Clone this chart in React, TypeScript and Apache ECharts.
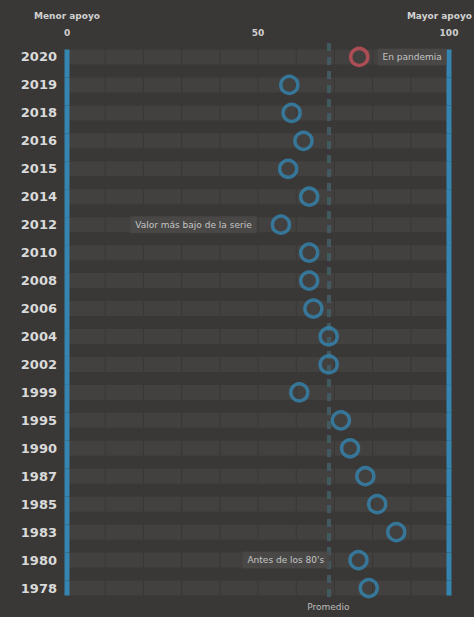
import React, { useEffect, useRef } from "react";
import * as echarts from "echarts";

const years = ["2020","2019","2018","2016","2015","2014","2012","2010","2008","2006","2004","2002","1999","1995","1990","1987","1985","1983","1980","1978"];
const values = [76.5,58.2,58.8,61.9,57.9,63.4,56.0,63.4,63.4,64.5,68.5,68.5,60.8,71.7,74.1,78.1,81.2,86.2,76.3,79.0];
const highlightYear = "2020";
const notes = [
  { year: "2020", text: "En pandemia", side: "right", distance: 8 },
  { year: "2012", text: "Valor más bajo de la serie", side: "left", distance: 14 },
  { year: "1980", text: "Antes de los 80's", side: "left", distance: 19 },
];
const axisTicks = [0, 50, 100];
const endLabels = ["Menor apoyo", "Mayor apoyo"];
const meanLabel = "Promedio";

const BG = "#393836";
const BAND = "#42413f";
const BLUE = "#3585b0";
const RED = "#c8505a";

export default function App() {
  const ref = useRef<HTMLDivElement>(null);
  useEffect(() => {
    document.body.style.margin = "0";
    const chart = echarts.init(ref.current!, null, { renderer: "svg" });
    const mean = values.reduce((a, b) => a + b, 0) / values.length;
    const n = years.length;

    const scatterData = values.map((v, i) => {
      const y = years[i];
      const note = notes.find((nn) => nn.year === y);
      const item: any = {
        value: [v, y],
        itemStyle: { borderColor: y === highlightYear ? RED : BLUE },
      };
      if (note) {
        item.label = {
          show: true,
          position: note.side,
          distance: note.distance,
          formatter: note.text,
          backgroundColor: "#4b4a48",
          padding: [4, 5, 4, 5],
          color: "#e4e4e4",
          fontSize: 9,
          fontFamily: "DejaVu Sans",
        };
      }
      return item;
    });

    const option: any = {
      animation: false,
      backgroundColor: BG,
      grid: { left: 67, right: 25, top: 43, bottom: 15 },
      xAxis: {
        type: "value",
        position: "top",
        min: 0,
        max: 100,
        interval: 50,
        axisLine: { show: false },
        axisTick: { show: false },
        splitLine: { show: false },
        axisLabel: {
          color: "#d0d0d0",
          fontSize: 9,
          fontWeight: "bold",
          fontFamily: "DejaVu Sans",
          margin: 6,
          formatter: (v: number) => (axisTicks.includes(v) ? String(v) : ""),
        },
      },
      yAxis: {
        type: "category",
        data: years,
        inverse: true,
        axisLine: { show: false },
        axisTick: { show: false },
        splitLine: { show: false },
        axisLabel: {
          color: "#dadada",
          fontSize: 13,
          fontWeight: "bold",
          fontFamily: "DejaVu Sans",
          margin: 10,
        },
      },
      series: [
        {
          type: "custom",
          silent: true,
          z: 1,
          data: years.map((y) => [0, y]),
          renderItem: (params: any, api: any) => {
            const idx = params.dataIndex;
            const cat = api.value(1);
            const rowH = api.size([0, 1])[1];
            const children: any[] = [];
            for (let k = 0; k < 10; k++) {
              const p1 = api.coord([k * 10, cat]);
              const p2 = api.coord([(k + 1) * 10, cat]);
              children.push({
                type: "rect",
                shape: { x: p1[0] + 0.5, y: p1[1] - 7.5, width: p2[0] - p1[0] - 1, height: 15 },
                style: { fill: BAND },
              });
            }
            const l = api.coord([0, cat]);
            const r = api.coord([100, cat]);
            const h = idx < n - 1 ? rowH : 15;
            [l[0], r[0]].forEach((x) => {
              children.push({
                type: "rect",
                shape: { x: x - 2.5, y: l[1] - 7.5, width: 5, height: h },
                style: { fill: BLUE },
              });
            });
            return { type: "group", children };
          },
          markLine: {
            silent: true,
            symbol: "none",
            label: { show: false },
            lineStyle: { color: "#41595f", width: 4, type: [8, 6] },
            data: [{ xAxis: mean }],
          },
        },
        {
          type: "scatter",
          z: 5,
          symbol: "circle",
          symbolSize: 17,
          itemStyle: { color: "rgba(0,0,0,0)", borderColor: BLUE, borderWidth: 3.5 },
          data: scatterData,
        },
      ],
    };
    chart.setOption(option);
    const mx = chart.convertToPixel({ xAxisIndex: 0 }, mean) as number;
    const x0 = chart.convertToPixel({ xAxisIndex: 0 }, 0) as number;
    chart.setOption({
      graphic: [
        {
          type: "text",
          x: x0,
          y: 16,
          style: {
            text: endLabels[0],
            fill: "#d0d0d0",
            font: "bold 9px 'DejaVu Sans'",
            align: "center",
            verticalAlign: "middle",
          },
        },
        {
          type: "text",
          x: 472,
          y: 16,
          style: {
            text: endLabels[1],
            fill: "#d0d0d0",
            font: "bold 9px 'DejaVu Sans'",
            align: "right",
            verticalAlign: "middle",
          },
        },
        {
          type: "text",
          x: mx,
          y: 607,
          style: {
            text: meanLabel,
            fill: "#bdbdbd",
            font: "9px 'DejaVu Sans'",
            align: "center",
            verticalAlign: "middle",
          },
        },
      ],
    });
    return () => chart.dispose();
  }, []);
  return <div ref={ref} style={{ width: 474, height: 617 }} />;
}
